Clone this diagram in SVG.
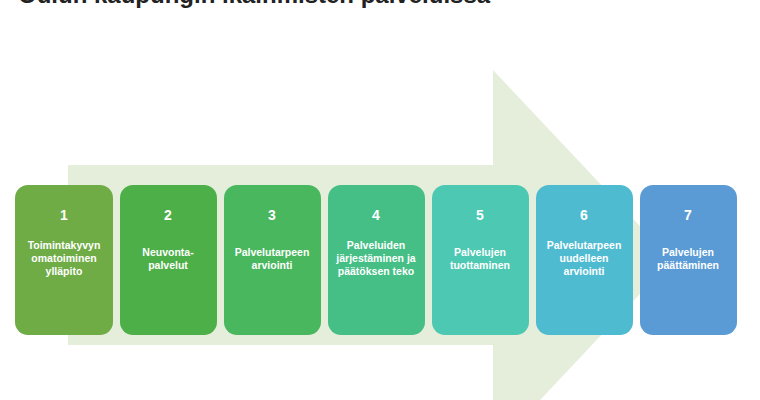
<svg xmlns="http://www.w3.org/2000/svg" width="760" height="400" viewBox="0 0 760 400">
<style>
.b{stroke:none}
.n{font:bold 14px "Liberation Sans",Arial,sans-serif;fill:#fff;text-anchor:middle}
.t{font:bold 10.5px "Liberation Sans",Arial,sans-serif;fill:#fff;text-anchor:middle}
</style>
<rect width="760" height="400" fill="#fff"/>
<text x="18" y="3" font-family="Liberation Sans,Arial,sans-serif" font-weight="bold" font-size="24" fill="#222">Oulun kaupungin ikäihmisten palveluissa</text>
<polygon points="68,165 493,165 493,70 672,260 493,450 493,345 68,345" fill="#e5eedb"/>
<g id="connectors"/>
<g id="n1"><rect class="b" x="15" y="185" width="98" height="150" rx="13" fill="#6fac46"/><text class="n" x="64" y="220">1</text><text class="t" x="64" y="249">Toimintakyvyn</text><text class="t" x="64" y="262">omatoiminen</text><text class="t" x="64" y="275">ylläpito</text></g>
<g id="n2"><rect class="b" x="120" y="185" width="97" height="150" rx="13" fill="#4daf47"/><text class="n" x="168" y="220">2</text><text class="t" x="168" y="256">Neuvonta-</text><text class="t" x="168" y="269">palvelut</text></g>
<g id="n3"><rect class="b" x="224" y="185" width="97" height="150" rx="13" fill="#48b75e"/><text class="n" x="272" y="220">3</text><text class="t" x="272" y="256">Palvelutarpeen</text><text class="t" x="272" y="269">arviointi</text></g>
<g id="n4"><rect class="b" x="328" y="185" width="97" height="150" rx="13" fill="#46bf86"/><text class="n" x="376" y="220">4</text><text class="t" x="376" y="249">Palveluiden</text><text class="t" x="376" y="262">järjestäminen ja</text><text class="t" x="376" y="275">päätöksen teko</text></g>
<g id="n5"><rect class="b" x="432" y="185" width="97" height="150" rx="13" fill="#4dc8b2"/><text class="n" x="480" y="220">5</text><text class="t" x="480" y="256">Palvelujen</text><text class="t" x="480" y="269">tuottaminen</text></g>
<g id="n6"><rect class="b" x="536" y="185" width="97" height="150" rx="13" fill="#4fbbd1"/><text class="n" x="584" y="220">6</text><text class="t" x="584" y="249">Palvelutarpeen</text><text class="t" x="584" y="262">uudelleen</text><text class="t" x="584" y="275">arviointi</text></g>
<g id="n7"><rect class="b" x="640" y="185" width="97" height="150" rx="13" fill="#5a9bd5"/><text class="n" x="688" y="220">7</text><text class="t" x="688" y="256">Palvelujen</text><text class="t" x="688" y="269">päättäminen</text></g>
</svg>
